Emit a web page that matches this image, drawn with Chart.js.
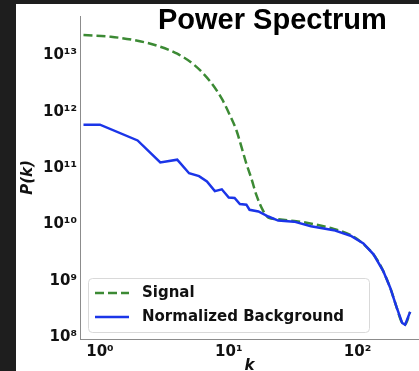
<!DOCTYPE html>
<html>
<head>
<meta charset="utf-8">
<script src="https://cdn.jsdelivr.net/npm/chart.js@4.4.1/dist/chart.umd.min.js"></script>
<style>
  html, body { margin: 0; padding: 0; background: #1e1e1e; width: 419px; height: 371px; overflow: hidden; }
  #wrap { position: absolute; left: 16px; top: 4px; width: 403px; height: 367px; background: #fff; }
  canvas { display: block; }
</style>
</head>
<body>
<div id="wrap"><canvas id="spectrum" width="403" height="367"></canvas></div>
<script>
// values
const kSignal = [0.745, 1.215, 1.86, 2.79, 3.98, 5.38, 7.14, 8.83, 10.2, 11.5, 12.6, 13.7, 15.0, 16.4, 18.6, 20.3,
                 24.2, 32.2, 42.0, 65.3, 88.3, 105, 143, 179, 200, 222, 234, 256];
const pSignal = [2.29e13, 2.14e13, 1.86e13, 1.48e13, 1.07e13, 6.8e12, 3.5e12, 1.7e12, 8.7e11, 4.6e11, 2.3e11, 1.2e11, 6.5e10, 3.3e10, 1.7e10, 1.32e10,
                 1.23e10, 1.15e10, 1.05e10, 8.3e9, 6.5e9, 5.0e9, 2.3e9, 7.6e8, 3.5e8, 1.78e8, 1.66e8, 2.8e8];

const kBackground = [0.745, 1.0, 1.96, 2.94, 3.98, 4.92, 5.88, 6.77, 7.80, 8.83, 10.0, 11.1, 12.2, 13.7, 14.5, 17.0, 20.3,
                     24.2, 32.2, 43.5, 65.3, 88.3, 111, 133, 158, 179, 200, 222, 234, 256];
const pBackground = [5.89e11, 5.89e11, 3.09e11, 1.26e11, 1.41e11, 8.1e10, 7.2e10, 5.8e10, 3.9e10, 4.2e10, 3.0e10, 2.95e10, 2.3e10, 2.24e10, 1.82e10, 1.7e10, 1.38e10,
                     1.17e10, 1.12e10, 9.3e9, 7.9e9, 6.3e9, 4.6e9, 2.95e9, 1.5e9, 7.6e8, 3.5e8, 1.78e8, 1.66e8, 2.8e8];

const xTickValues = [1, 10, 100];
const xTickLabels = ['10⁰', '10¹', '10²'];
const yTickValues = [1e8, 1e9, 1e10, 1e11, 1e12, 1e13];
const yTickLabels = ['10⁸', '10⁹', '10¹⁰', '10¹¹', '10¹²', '10¹³'];

const seriesNames = ['Signal', 'Normalized Background'];
const titleText = 'Power Spectrum';

const FONT = '"DejaVu Sans", sans-serif';

function toPoints(xs, ys) {
    return xs.map((x, i) => ({ x: x, y: ys[i] }));
}

function pickLabel(values, labels) {
    return (value) => {
        const idx = values.findIndex(v => Math.abs(Math.log10(v) - Math.log10(value)) < 1e-6);
        return idx === -1 ? '' : labels[idx];
    };
}

// title and legend sit inside the plot area, so draw them ourselves
const overlay = {
    id: 'overlay',
    afterDraw(chart) {
        const ctx = chart.ctx;
        ctx.save();

        ctx.font = 'bold 29px "Liberation Sans", Arial, sans-serif';
        ctx.fillStyle = '#000';
        ctx.textBaseline = 'alphabetic';
        ctx.textAlign = 'left';
        ctx.fillText(titleText, 142, 25);

        ctx.beginPath();
        ctx.roundRect(72.5, 274.5, 281, 54, 4);
        ctx.fillStyle = 'rgba(255,255,255,0.8)';
        ctx.fill();
        ctx.strokeStyle = '#d9d9d9';
        ctx.lineWidth = 1;
        ctx.stroke();

        const rows = [289, 313];
        chart.data.datasets.forEach((ds, i) => {
            const y = rows[i];
            ctx.beginPath();
            ctx.setLineDash(ds.borderDash || []);
            ctx.strokeStyle = ds.borderColor;
            ctx.lineWidth = ds.borderWidth;
            ctx.moveTo(79, y);
            ctx.lineTo(113, y);
            ctx.stroke();
            ctx.setLineDash([]);
            ctx.font = 'bold 15px ' + FONT;
            ctx.fillStyle = '#111';
            ctx.textBaseline = 'middle';
            ctx.fillText(ds.label, 126, y);
        });

        ctx.restore();
    }
};

new Chart(document.getElementById('spectrum'), {
    type: 'line',
    data: {
        datasets: [
            {
                label: seriesNames[0],
                data: toPoints(kSignal, pSignal),
                borderColor: '#3c8a34',
                borderWidth: 2.5,
                borderDash: [9, 4],
                pointRadius: 0,
                cubicInterpolationMode: 'monotone',
                fill: false,
                order: 2
            },
            {
                label: seriesNames[1],
                data: toPoints(kBackground, pBackground),
                borderColor: '#1b35e8',
                borderWidth: 2.5,
                pointRadius: 0,
                tension: 0,
                fill: false,
                order: 1
            }
        ]
    },
    options: {
        responsive: false,
        animation: false,
        devicePixelRatio: 1,
        layout: { padding: 0 },
        plugins: {
            legend: { display: false },
            tooltip: { enabled: false }
        },
        scales: {
            x: {
                type: 'logarithmic',
                min: 0.74,
                max: 300,
                grid: { display: false, drawTicks: false },
                border: { display: true, color: '#8c8c8c', width: 1 },
                afterBuildTicks: axis => { axis.ticks = xTickValues.map(v => ({ value: v })); },
                afterFit: axis => { axis.height = 32; },
                ticks: {
                    autoSkip: false,
                    maxRotation: 0,
                    padding: 4,
                    color: '#111',
                    font: { family: FONT, size: 15, weight: 'bold' },
                    callback: pickLabel(xTickValues, xTickLabels)
                },
                title: {
                    display: true,
                    text: 'k',
                    color: '#111',
                    padding: 0,
                    font: { family: FONT, size: 15, weight: 'bold', style: 'italic', lineHeight: 0.67 }
                }
            },
            y: {
                type: 'logarithmic',
                min: 9.25e7,
                max: 5.0e13,
                grid: { display: false, drawTicks: false },
                border: { display: true, color: '#8c8c8c', width: 1 },
                afterBuildTicks: axis => { axis.ticks = yTickValues.map(v => ({ value: v })); },
                afterFit: axis => { axis.width = 64; },
                ticks: {
                    autoSkip: false,
                    padding: 3,
                    color: '#111',
                    font: { family: FONT, size: 15, weight: 'bold' },
                    callback: pickLabel(yTickValues, yTickLabels)
                },
                title: {
                    display: true,
                    text: 'P(k)',
                    color: '#111',
                    padding: { top: 3, bottom: 0 },
                    font: { family: FONT, size: 15, weight: 'bold', style: 'italic', lineHeight: 1.2 }
                }
            }
        }
    },
    plugins: [overlay]
});
</script>
</body>
</html>
